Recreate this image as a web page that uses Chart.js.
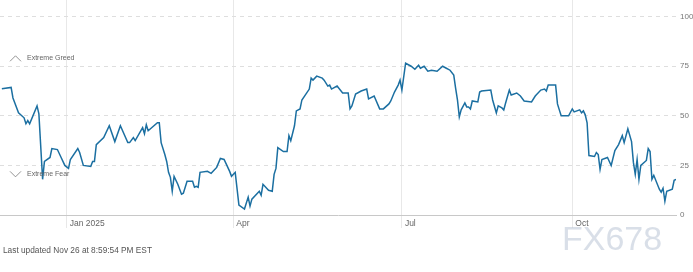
<!DOCTYPE html>
<html>
<head>
<meta charset="utf-8">
<script src="https://cdn.jsdelivr.net/npm/chart.js@4/dist/chart.umd.min.js"></script>
<style>
  body { margin: 0; background: #fff; }
  #wrap { position: relative; width: 693px; height: 272px; }
  #footer { position: absolute; left: 3px; top: 245px; font: 8.3px "Liberation Sans", Arial, sans-serif; color: #555; }
  #mark { position: absolute; left: 562px; top: 219px; font: 34px "Liberation Sans", Arial, sans-serif; color: rgba(185,197,214,0.55); }
</style>
</head>
<body>
<div id="wrap">
  <canvas id="myChart" width="693" height="272"></canvas>
  <div id="footer">Last updated Nov 26 at 8:59:54 PM EST</div>
  <div id="mark">FX678</div>
</div>
<script>
const startDate = '2024-11-26';
const endDate = '2025-11-26';

const dates = [
  '2024-11-27','2024-12-02','2024-12-03','2024-12-06','2024-12-09','2024-12-10','2024-12-11','2024-12-12','2024-12-16','2024-12-17','2024-12-19','2024-12-20','2024-12-23','2024-12-24','2024-12-27','2024-12-29','2024-12-31',
  '2025-01-02','2025-01-03','2025-01-07','2025-01-08','2025-01-10','2025-01-14','2025-01-15','2025-01-16','2025-01-17','2025-01-21','2025-01-24','2025-01-27','2025-01-30',
  '2025-02-03','2025-02-04','2025-02-06','2025-02-07','2025-02-11','2025-02-12','2025-02-13','2025-02-14','2025-02-19','2025-02-20','2025-02-21','2025-02-23','2025-02-24','2025-02-25','2025-02-26','2025-02-27','2025-02-28',
  '2025-03-02','2025-03-04','2025-03-05','2025-03-07','2025-03-10','2025-03-11','2025-03-12','2025-03-13','2025-03-14','2025-03-18','2025-03-20','2025-03-23','2025-03-25','2025-03-27','2025-03-30','2025-03-31',
  '2025-04-02','2025-04-04','2025-04-07','2025-04-09','2025-04-10','2025-04-11','2025-04-15','2025-04-16','2025-04-17','2025-04-20','2025-04-22','2025-04-23','2025-04-24','2025-04-25','2025-04-28','2025-04-30',
  '2025-05-01','2025-05-02','2025-05-04','2025-05-05','2025-05-07','2025-05-08','2025-05-12','2025-05-13','2025-05-14','2025-05-16','2025-05-19','2025-05-20','2025-05-22','2025-05-23','2025-05-24','2025-05-27','2025-05-30',
  '2025-06-02','2025-06-03','2025-06-04','2025-06-06','2025-06-09','2025-06-12','2025-06-13','2025-06-16','2025-06-19','2025-06-21','2025-06-24','2025-06-25','2025-06-27','2025-06-29','2025-06-30',
  '2025-07-01','2025-07-03','2025-07-06','2025-07-08','2025-07-10','2025-07-11','2025-07-13','2025-07-15','2025-07-17','2025-07-20','2025-07-23','2025-07-25','2025-07-27','2025-07-29','2025-07-30','2025-07-31',
  '2025-08-01','2025-08-02','2025-08-04','2025-08-05','2025-08-06','2025-08-07','2025-08-08','2025-08-11','2025-08-12','2025-08-13','2025-08-18','2025-08-19','2025-08-21','2025-08-22','2025-08-24','2025-08-25','2025-08-26','2025-08-28','2025-08-29',
  '2025-09-01','2025-09-03','2025-09-05','2025-09-09','2025-09-11','2025-09-14','2025-09-16','2025-09-17','2025-09-18','2025-09-22','2025-09-23','2025-09-24','2025-09-25','2025-09-29',
  '2025-10-01','2025-10-02','2025-10-05','2025-10-06','2025-10-07','2025-10-08','2025-10-09','2025-10-10','2025-10-13','2025-10-14','2025-10-15','2025-10-16','2025-10-17','2025-10-20','2025-10-21','2025-10-22','2025-10-24','2025-10-26','2025-10-28','2025-10-29','2025-10-31',
  '2025-11-02','2025-11-03','2025-11-04','2025-11-05','2025-11-06','2025-11-07','2025-11-10','2025-11-11','2025-11-12','2025-11-13','2025-11-14','2025-11-17','2025-11-18','2025-11-19','2025-11-20','2025-11-21','2025-11-24','2025-11-25','2025-11-26'
];

const fearGreed = [
  63.6,64.3,59,51.5,49,46,47.6,46,55,51,18,27,29,33.5,33,29,25,
  23.5,28,33.5,31.5,25,24.5,27,27,35.5,39,45,37,45,
  36.5,36.5,39,37.5,44,41,45.5,42.5,46.5,46.5,36.5,30.5,27,21.5,19,12,19.5,
  15.5,10.5,11,17,17,14,14.5,14,21.5,22,21,24,28.5,28,22,19.5,
  21.5,5,3,9,4.5,8,12,10,15.5,12.5,12,20.5,23.5,34,32,32,
  40,37.5,45,52.5,53.5,58,63.5,69,68,70,69,68,65,65.5,63.5,65,61.5,
  61.5,53.5,55,61,62.5,63.5,58.5,60,53.5,53.5,56,57.5,62,65.5,68,
  63,76.5,75,73.5,75.5,74,75,72.5,73,72.5,75,74,73,70.5,64,58,
  49.5,53,56.5,54.5,54.5,53.5,57.5,57,62,62.5,63,58,51.5,55,54,53,56.5,63,60.5,
  61.5,60,57.5,57,60,63,63.5,62.5,65.5,65.5,56,53,50,50,
  53.5,52,53,51.5,52.5,50.5,46.5,30,29.5,31.5,30.5,23,28,29,27,25,32.5,35.5,40,36.5,43.5,
  37,26.5,20.5,28,18,25,27.5,33.5,32,18,20,13,11.5,13.5,7,12,13,17.5,18
];

const xTickDates = ['2025-01-01', '2025-04-01', '2025-07-01', '2025-10-01'];
const xTickLabels = ['Jan 2025', 'Apr', 'Jul', 'Oct'];
const yTicks = [0, 25, 50, 75, 100];

const zones = [
  { label: 'Extreme Greed', value: 79, dir: 'up' },
  { label: 'Extreme Fear', value: 20.5, dir: 'down' }
];

// days since start, so a linear axis can stand in for a time axis
const dayOf = d => (Date.parse(d) - Date.parse(startDate)) / 86400000;
const points = dates.map((d, i) => ({ x: dayOf(d), y: fearGreed[i] }));

Chart.defaults.font.family = '"Liberation Sans", Arial, sans-serif';

const zonePlugin = {
  id: 'zones',
  afterDatasetsDraw(chart) {
    const ctx = chart.ctx;
    const y = chart.scales.y;
    ctx.save();
    zones.forEach(z => {
      const py = y.getPixelForValue(z.value);
      ctx.strokeStyle = '#777';
      ctx.lineWidth = 0.8;
      ctx.beginPath();
      if (z.dir === 'up') {
        ctx.moveTo(10, py + 3); ctx.lineTo(15.5, py - 2.5); ctx.lineTo(21, py + 3);
      } else {
        ctx.moveTo(10, py - 3); ctx.lineTo(15.5, py + 2.5); ctx.lineTo(21, py - 3);
      }
      ctx.stroke();
      ctx.fillStyle = '#666';
      ctx.font = '7px "Liberation Sans", Arial, sans-serif';
      ctx.textBaseline = 'middle';
      ctx.fillText(z.label, 27, py);
    });
    ctx.restore();
  }
};

const ctx = document.getElementById('myChart').getContext('2d');
new Chart(ctx, {
    type: 'line',
    data: {
        datasets: [{
            data: points,
            borderColor: '#1b6fa1',
            borderWidth: 1.5,
            pointRadius: 0,
            tension: 0,
            fill: false
        }]
    },
    options: {
        responsive: false,
        animation: false,
        layout: { padding: 0 },
        plugins: { legend: { display: false }, tooltip: { enabled: false } },
        scales: {
            x: {
                type: 'linear',
                min: 0,
                max: dayOf(endDate),
                afterBuildTicks: s => { s.ticks = xTickDates.map(d => ({ value: dayOf(d) })); },
                afterFit: s => { s.height = 57; s.paddingLeft = 0; s.paddingRight = 0; },
                grid: { color: '#e8e8e8', tickColor: '#e8e8e8', tickLength: 13, drawTicks: true },
                border: { display: true, color: '#c8c8c8' },
                ticks: {
                    align: 'start',
                    labelOffset: 3,
                    padding: -9,
                    maxRotation: 0,
                    color: '#666',
                    font: { size: 8.5 },
                    callback: (v, i) => xTickLabels[i]
                }
            },
            y: {
                position: 'right',
                min: 0,
                max: 108.4,
                afterBuildTicks: s => { s.ticks = yTicks.map(v => ({ value: v })); },
                afterFit: s => { s.width = 17; s.paddingTop = 0; s.paddingBottom = 0; },
                grid: {
                    color: c => c.tick && c.tick.value === 0 ? 'rgba(0,0,0,0)' : '#dedede',
                    drawTicks: false
                },
                border: { display: false, dash: [4, 4] },
                ticks: { padding: 4, color: '#777', font: { size: 8 } }
            }
        }
    },
    plugins: [zonePlugin]
});
</script>
</body>
</html>
